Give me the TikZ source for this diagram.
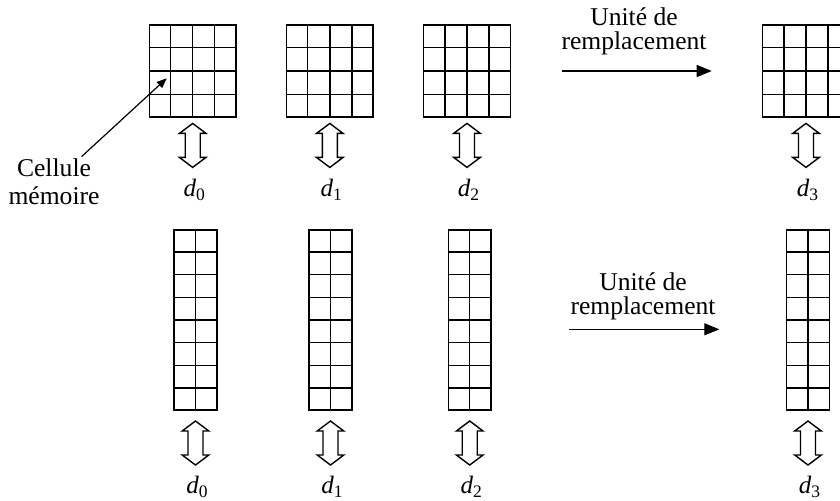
\documentclass[tikz,border=0pt]{standalone}
\usepackage{fontspec}
\setmainfont{Liberation Serif}
\usetikzlibrary{arrows.meta,positioning,calc}

\begin{document}
\begin{tikzpicture}[x=0.5pt,y=-0.5pt,
cellbox/.style={draw,line width=0.7pt,inner sep=0},
sqbox/.style={cellbox,minimum width=43.35pt,minimum height=46pt},
colbox/.style={cellbox,minimum width=21.35pt,minimum height=90pt},
cl/.style={line width=0.7pt},
lab/.style={font=\fontsize{12.5}{12}\selectfont,inner sep=1pt},
txt/.style={font=\fontsize{12.8}{12}\selectfont,align=center,inner sep=1pt},
arr/.style={-{Triangle[length=7.5pt,width=6pt]},line width=0.6pt},
ptr/.style={-{Triangle[length=5pt,width=4pt]},line width=0.6pt},
updown/.pic={\draw[line width=0.7pt] (0,-22) -- (13.3,-12) -- (7.5,-12) -- (7.5,12) -- (13.3,12) -- (0,22) -- (-13.3,12) -- (-7.5,12) -- (-7.5,-12) -- (-13.3,-12) -- cycle;}
]
\clip (0,0) rectangle (840,500);

% 4x4 blocks, top row
\foreach \k/\x in {0/192.7,1/329.8,2/467,3/806}{
  \node[sqbox] (g\k) at (\x,71) {};
  \foreach \i in {1,2,3}{
    \draw[cl] ($(g\k.north west)!\i/4!(g\k.north east)$) -- ($(g\k.south west)!\i/4!(g\k.south east)$);
    \draw[cl] ($(g\k.north west)!\i/4!(g\k.south west)$) -- ($(g\k.north east)!\i/4!(g\k.south east)$);
  }
  \pic at ($(g\k.south)+(0,27.7)$) {updown};
  \node[lab] (dt\k) at (\x+2,190) {\textit{d}\textsubscript{\k}};
}

% 2x8 columns, bottom row
\foreach \k/\x in {0/195.5,1/330.5,2/469.7,3/808}{
  \node[colbox] (c\k) at (\x,320) {};
  \draw[cl] (c\k.north) -- (c\k.south);
  \foreach \i in {1,...,7}{
    \draw[cl] ($(c\k.north west)!\i/8!(c\k.south west)$) -- ($(c\k.north east)!\i/8!(c\k.south east)$);
  }
  \pic at ($(c\k.south)+(0,32.3)$) {updown};
  \node[lab] (db\k) at (\x+2,487) {\textit{d}\textsubscript{\k}};
}

% replacement unit
\node[txt] (u1) at (634,31) {Unité de\\remplacement};
\coordinate (u1a) at (561.7,71);
\coordinate (u1b) at (711.7,71);
\draw[arr] (u1a) -- (u1b);

\node[txt] (u2) at (643,296) {Unité de\\remplacement};
\coordinate (u2a) at (569.3,329.3);
\coordinate (u2b) at (719.3,329.3);
\draw[arr] (u2a) -- (u2b);

% memory cell pointer
\node[txt,font=\fontsize{12.8}{14}\selectfont] (cm) at (54,182) {Cellule\\mémoire};
\coordinate (cell) at (166.7,78.3);
\draw[ptr] (cm) -- (cell);
\end{tikzpicture}
\end{document}
